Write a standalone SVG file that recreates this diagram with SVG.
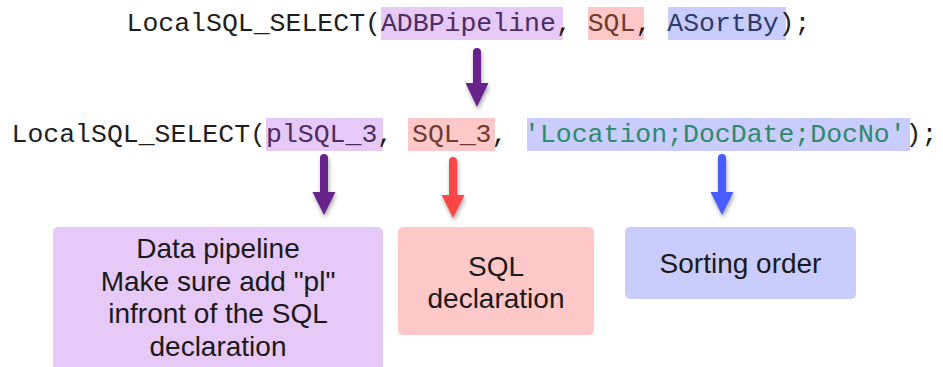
<svg xmlns="http://www.w3.org/2000/svg" width="943" height="367" viewBox="0 0 943 367">
<style>
.code{font-family:"Liberation Mono","Courier New",monospace;font-size:26.5px;fill:#1e1e1e}
.lbl{font-family:"Liberation Sans",Arial,sans-serif;font-size:28px;fill:#1a1a1a;text-anchor:middle}
.hp{fill:#e6c9f6}.hr{fill:#ffc8c8}.hb{fill:#c8cdfd}
.tp{fill:#4e2c62}.tr{fill:#6e3a2e}.tb{fill:#2d3a6b}.tg{fill:#2e8a6a}
</style>
<defs>
<filter id="sh" x="-50%" y="-20%" width="200%" height="150%">
<feDropShadow dx="1" dy="3" stdDeviation="2" flood-color="#000" flood-opacity="0.35"/>
</filter>
</defs>
<g id="line1">
<rect class="hp" x="381" y="7" width="182" height="33"/>
<rect class="hr" x="588" y="7" width="56" height="33"/>
<rect class="hb" x="668" y="7" width="118" height="33"/>
<text class="code" x="126.5" y="31" xml:space="preserve">LocalSQL_SELECT(<tspan class="tp">ADBPipeline</tspan>, <tspan class="tr">SQL</tspan>, <tspan class="tb">ASortBy</tspan>);</text>
</g>
<g id="line2">
<rect class="hp" x="266" y="118" width="117" height="33"/>
<rect class="hr" x="408" y="118" width="87" height="33"/>
<rect class="hb" x="527" y="118" width="383" height="33"/>
<text class="code" y="142" xml:space="preserve"><tspan x="11.5">LocalSQL_SELECT(</tspan><tspan x="266" class="tp">plSQL_3</tspan><tspan x="377">,</tspan><tspan x="412" class="tr">SQL_3</tspan><tspan x="491.5">,</tspan><tspan x="524" class="tg">'Location;DocDate;DocNo'</tspan><tspan x="905.6">);</tspan></text>
</g>
<g id="box-pipeline">
<rect x="53" y="227" width="330" height="150" rx="5" fill="#e6c9f6"/>
<text class="lbl" x="218" y="258">Data pipeline</text>
<text class="lbl" x="218" y="290.5">Make sure add "pl"</text>
<text class="lbl" x="218" y="323">infront of the SQL</text>
<text class="lbl" x="218" y="355.5">declaration</text>
</g>
<g id="box-sql">
<rect x="398" y="227" width="196" height="108" rx="5" fill="#ffc8c8"/>
<text class="lbl" x="496" y="276">SQL</text>
<text class="lbl" x="496" y="308">declaration</text>
</g>
<g id="box-sort">
<rect x="625" y="227" width="231" height="72" rx="5" fill="#c8cdfd"/>
<text class="lbl" x="740.5" y="273">Sorting order</text>
</g>
<g id="connectors" filter="url(#sh)">
<path d="M473 83 V52 a4 4 0 0 1 8 0 V83 H488.5 L477 107 L465.5 83 Z" fill="#68228b"/>
<path d="M320 192 V158 a4 4 0 0 1 8 0 V192 H335.5 L324 215 L312.5 192 Z" fill="#68228b"/>
<path d="M449 195 V161 a4 4 0 0 1 8 0 V195 H464.5 L453 218 L441.5 195 Z" fill="#ff4444"/>
<path d="M718 192 V158 a4 4 0 0 1 8 0 V192 H733.5 L722 215 L710.5 192 Z" fill="#4a5cff"/>
</g>
</svg>
